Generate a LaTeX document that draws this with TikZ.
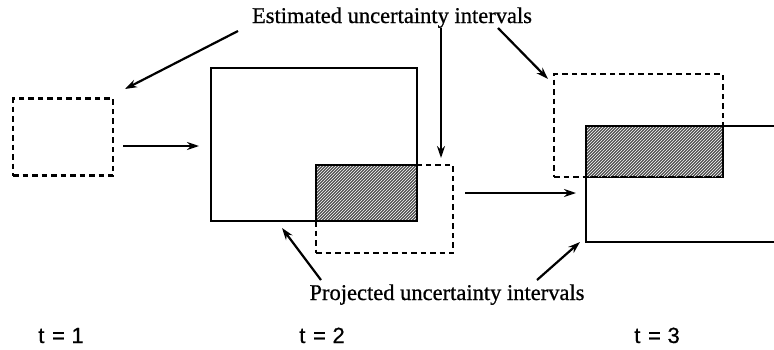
\documentclass[tikz,border=0pt]{standalone}
\usepackage{fontspec}
\setmainfont{Liberation Serif}
\newfontfamily\lblfont[FakeBold=0.7]{Liberation Serif}
\newfontfamily\tfont[FakeBold=0.6]{Liberation Sans}
\usetikzlibrary{arrows.meta,patterns}
\begin{document}
\begin{tikzpicture}[x=1pt,y=-1pt,
  solidbox/.style={draw,line width=2.5pt,inner sep=0pt},
  dashbox/.style={draw,line width=2.6pt,dash pattern=on 5.5pt off 4pt,inner sep=0pt},
  hatch/.style={fill=black!68,draw=black,line width=2pt},
  arr/.style={line width=2.2pt,-{Stealth[length=12pt,width=8pt]}},
  lbl/.style={font=\lblfont\fontsize{22.5}{26}\selectfont,inner sep=0pt,anchor=base},
  tlbl/.style={font=\tfont\fontsize{22}{26}\selectfont,inner sep=0pt,anchor=base}]
\useasboundingbox (0,0) rectangle (774,349);
% texts
\node[lbl] (est) at (392,23) {Estimated uncertainty intervals};
\node[lbl] (proj) at (447,300) {Projected uncertainty intervals};
\node[tlbl] (t1) at (61,343) {t\hspace{0.35em}=\hspace{0.3em}1};
\node[tlbl] (t2) at (322,343) {t\hspace{0.35em}=\hspace{0.3em}2};
\node[tlbl] (t3) at (657,343) {t\hspace{0.35em}=\hspace{0.3em}3};
% t=1 box
\node[dashbox,minimum width=100pt,minimum height=77pt] (b1) at (63,137) {};
% t=2
\draw[hatch] (316,165) rectangle (417,221);
\fill[pattern=north east lines,pattern color=white!75] (317,166) rectangle (416,220);
\node[solidbox,minimum width=206pt,minimum height=153pt] (b2) at (314,144.5) {};
\node[dashbox,minimum width=137pt,minimum height=88pt] (b2d) at (384.5,209) {};
% t=3
\draw[hatch] (586,126) rectangle (723,177);
\fill[pattern=north east lines,pattern color=white!75] (587,127) rectangle (722,176);
\node[dashbox,minimum width=169pt,minimum height=103pt] (b3d) at (638.5,125.5) {};
\coordinate (b3tl) at (586,126);
\coordinate (b3tr) at (774,126);
\coordinate (b3bl) at (586,242);
\coordinate (b3br) at (774,242);
\draw[line width=2.5pt] (b3tr) -- (b3tl) -- (b3bl) -- (b3br);
% arrow coordinates
\coordinate (a1s) at (238,31); \coordinate (a1e) at (125,89);
\coordinate (a2s) at (441,28); \coordinate (a2e) at (441,158);
\coordinate (a3s) at (498,28); \coordinate (a3e) at (548,79);
\coordinate (a4s) at (123,146); \coordinate (a4e) at (199,146);
\coordinate (a5s) at (465,193); \coordinate (a5e) at (576,193);
\coordinate (a6s) at (321,280); \coordinate (a6e) at (282,228);
\coordinate (a7s) at (537,280); \coordinate (a7e) at (580,242);
\draw[arr] (a1s) -- (a1e);
\draw[arr] (a2s) -- (a2e);
\draw[arr] (a3s) -- (a3e);
\draw[arr] (a4s) -- (a4e);
\draw[arr] (a5s) -- (a5e);
\draw[arr] (a6s) -- (a6e);
\draw[arr] (a7s) -- (a7e);
\end{tikzpicture}
\end{document}
